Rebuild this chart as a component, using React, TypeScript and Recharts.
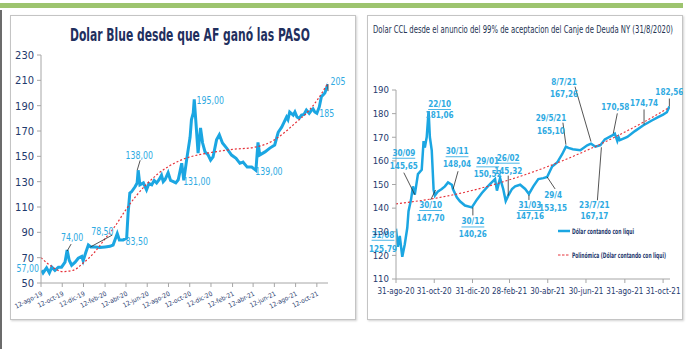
import React from 'react';
import { LineChart, Line, XAxis, YAxis, ReferenceDot, Legend } from 'recharts';

const NARROW = '"Liberation Sans Narrow", "DejaVu Sans Condensed", "Liberation Sans", sans-serif';
const NAVY = '#1f3a6e';
const BLUE = '#1ba6e2';
const LABEL_BLUE = '#2eaae2';
const RED = '#e5323a';
const AXIS = '#a6a6a6';
const LEADER = '#2a2a2a';

const MONTHS = ['ene', 'feb', 'mar', 'abr', 'may', 'jun', 'jul', 'ago', 'sep', 'oct', 'nov', 'dic'];
const isoTs = (iso: string) => {
  const [y, m, d] = iso.split('-').map(Number);
  return Date.UTC(y, m - 1, d);
};
const labelTs = (label: string) => {
  const [d, mon, yy] = label.split('-');
  return Date.UTC(2000 + Number(yy), MONTHS.indexOf(mon), Number(d));
};

// ---- Dolar Blue (left) ----
const blueDates = [
  '2019-08-14', '2019-08-18', '2019-08-28', '2019-09-05', '2019-09-12', '2019-09-21', '2019-10-01', '2019-10-10',
  '2019-10-20', '2019-10-26', '2019-11-01', '2019-11-08', '2019-11-18', '2019-11-27', '2019-12-07', '2019-12-11',
  '2019-12-19', '2019-12-26', '2020-01-02', '2020-01-14', '2020-01-28', '2020-02-12', '2020-02-26', '2020-03-06',
  '2020-03-18', '2020-03-24', '2020-04-04', '2020-04-14', '2020-04-18', '2020-04-23', '2020-04-28', '2020-05-08',
  '2020-05-14', '2020-05-17', '2020-05-22', '2020-06-01', '2020-06-10', '2020-06-17', '2020-06-25', '2020-07-02',
  '2020-07-09', '2020-07-16', '2020-07-23', '2020-07-28', '2020-08-02', '2020-08-11', '2020-08-18', '2020-08-26',
  '2020-09-02', '2020-09-09', '2020-09-19', '2020-09-25', '2020-10-03', '2020-10-13', '2020-10-17', '2020-10-22',
  '2020-10-25', '2020-10-30', '2020-11-05', '2020-11-12', '2020-11-18', '2020-11-25', '2020-12-04', '2020-12-11',
  '2020-12-18', '2020-12-28', '2021-01-05', '2021-01-14', '2021-01-26', '2021-02-09', '2021-02-22', '2021-03-05',
  '2021-03-14', '2021-03-26', '2021-04-08', '2021-04-20', '2021-04-26', '2021-05-01', '2021-05-16', '2021-05-30',
  '2021-06-13', '2021-06-23', '2021-07-03', '2021-07-10', '2021-07-17', '2021-07-21', '2021-07-26', '2021-08-05',
  '2021-08-10', '2021-08-16', '2021-08-22', '2021-08-29', '2021-09-05', '2021-09-12', '2021-09-20', '2021-09-27',
  '2021-10-01', '2021-10-06', '2021-10-12', '2021-10-19', '2021-10-25', '2021-11-04', '2021-11-09', '2021-11-13',
];
const blueValues = [
  60, 58, 62, 58, 62.5, 60, 62.5, 62.5,
  66.5, 76, 68, 64, 66.5, 69.5, 71, 67.5,
  74.5, 80, 78.5, 78.5, 78, 78.5, 79, 80,
  89, 84, 84, 85.5, 105, 121, 122, 126,
  129, 139, 127.5, 129, 123.5, 128.5, 127.5, 131,
  129, 131.5, 135, 130, 131.5, 137, 131, 130,
  129, 131.5, 144.5, 131, 147, 165, 179, 184,
  195, 176, 152.5, 172.5, 160.5, 153.5, 151, 147,
  149.5, 163, 167, 160.5, 156.5, 151, 148.5, 144.5,
  145.5, 141.5, 141.5, 139, 161, 151, 153.5, 156.5,
  159, 169, 173, 177, 181, 179, 185, 182.5,
  185, 181, 180, 182.5, 183, 186.5, 184, 186.5,
  187.5, 185, 184, 189, 197, 200, 204, 207,
];
const blueTrendDates = [
  '2019-08-12', '2019-09-12', '2019-10-12', '2019-11-12', '2019-12-12', '2020-01-12', '2020-02-12', '2020-03-12',
  '2020-04-12', '2020-05-12', '2020-06-12', '2020-07-12', '2020-08-12', '2020-09-12', '2020-10-12', '2020-11-12',
  '2020-12-12', '2021-02-12', '2021-04-12', '2021-05-12', '2021-06-12', '2021-07-12', '2021-08-12', '2021-09-12',
  '2021-10-12', '2021-11-13',
];
const blueTrendValues = [
  70, 63, 59, 60, 66, 74, 85, 95,
  108, 119, 128.5, 136, 142, 146.5, 149.5, 151.5,
  153, 155.5, 157, 159, 163, 169, 176.5, 184,
  194, 208,
];
const blueTickLabels = [
  '12-ago-19', '12-oct-19', '12-dic-19', '12-feb-20', '12-abr-20', '12-jun-20', '12-ago-20',
  '12-oct-20', '12-dic-20', '12-feb-21', '12-abr-21', '12-jun-21', '12-ago-21', '12-oct-21',
];
const blueYTicks = [50, 70, 90, 110, 130, 150, 170, 190, 210, 230];

// ---- Dolar CCL (right) ----
const cclDates = [
  '2020-08-31', '2020-09-03', '2020-09-06', '2020-09-10', '2020-09-14', '2020-09-18', '2020-09-20', '2020-09-24',
  '2020-09-27', '2020-09-30', '2020-10-02', '2020-10-05', '2020-10-11', '2020-10-14', '2020-10-16', '2020-10-19',
  '2020-10-22', '2020-10-24', '2020-10-27', '2020-10-30', '2020-11-01', '2020-11-06', '2020-11-12', '2020-11-17',
  '2020-11-22', '2020-11-28', '2020-11-30', '2020-12-06', '2020-12-11', '2020-12-19', '2020-12-30', '2021-01-07',
  '2021-01-15', '2021-01-23', '2021-01-29', '2021-02-05', '2021-02-08', '2021-02-13', '2021-02-18', '2021-02-22',
  '2021-02-26', '2021-03-04', '2021-03-09', '2021-03-17', '2021-03-25', '2021-03-31', '2021-04-07', '2021-04-15',
  '2021-04-23', '2021-04-29', '2021-05-07', '2021-05-15', '2021-05-23', '2021-05-29', '2021-06-02', '2021-06-09',
  '2021-06-21', '2021-07-02', '2021-07-08', '2021-07-15', '2021-07-23', '2021-07-30', '2021-08-11', '2021-08-15',
  '2021-08-19', '2021-08-21', '2021-08-23', '2021-09-04', '2021-09-16', '2021-09-29', '2021-10-13', '2021-10-23',
  '2021-10-31', '2021-11-06', '2021-11-10',
];
const cclValues = [
  131.3, 123.6, 128.2, 119.4, 124.7, 131.7, 138.7, 143.6,
  149.2, 145.7, 149.2, 154.4, 156.2, 168.4, 165.6, 170.1,
  181.1, 170.1, 164.5, 147.7, 145.3, 147.1, 148.1, 149.2,
  150.9, 149.9, 148.0, 144.6, 142.9, 141.1, 140.3, 143.6,
  146.4, 148.8, 150.5, 152.3, 147.4, 152.7, 148.1, 143.0,
  145.3, 148.1, 149.2, 149.9, 148.1, 146.0, 149.2, 152.3,
  152.7, 153.2, 157.6, 159.3, 162.8, 166.0, 165.5, 164.9,
  164.5, 166.6, 167.3, 166.0, 166.6, 169.1, 170.8, 171.5,
  168.4, 170.0, 168.8, 170.1, 172.6, 175.0, 177.1, 178.5,
  179.6, 180.6, 183.0,
];
const cclTrendDates = [
  '2020-08-31', '2020-10-31', '2020-12-31', '2021-02-28', '2021-04-30', '2021-06-30', '2021-08-31', '2021-10-31',
  '2021-11-10',
];
const cclTrendValues = [141.8, 144.1, 147.5, 152.0, 157.6, 164.3, 172.2, 181.1, 182.7];
const cclTickLabels = [
  '31-ago-20', '31-oct-20', '31-dic-20', '28-feb-21', '30-abr-21', '30-jun-21', '31-ago-21', '31-oct-21',
];
const cclYTicks = [110, 120, 130, 140, 150, 160, 170, 180, 190];

type NoteLine = { text: string; dx: number; dy: number; u?: boolean };
type Note = { date: string; value: number; lines: NoteLine[]; leader?: number[] };

const blueNotes: Note[] = [
  { date: '2019-08-14', value: 60, lines: [{ text: '57,00', dx: -14, dy: -2 }] },
  { date: '2019-10-26', value: 76, lines: [{ text: '74,00', dx: 5, dy: -13 }], leader: [0, 1, 4, -6] },
  { date: '2019-12-26', value: 80, lines: [{ text: '78,50', dx: 14, dy: -14 }], leader: [2, 2, 24, -10] },
  { date: '2020-04-14', value: 85.5, lines: [{ text: '83,50', dx: 10, dy: 3 }] },
  { date: '2020-05-17', value: 139, lines: [{ text: '138,00', dx: 1, dy: -15 }], leader: [-1, 0, 2, -10] },
  { date: '2020-09-25', value: 131, lines: [{ text: '131,00', dx: 13, dy: 1 }] },
  { date: '2020-10-25', value: 195, lines: [{ text: '195,00', dx: 16, dy: 1 }] },
  { date: '2021-04-20', value: 139, lines: [{ text: '139,00', dx: 13, dy: 1 }] },
  { date: '2021-10-06', value: 185, lines: [{ text: '185', dx: 12, dy: 1 }] },
  { date: '2021-11-13', value: 207, lines: [{ text: '205', dx: 10, dy: -3 }], leader: [0, 0, 0, 7] },
];

const cclNotes: Note[] = [
  { date: '2020-08-31', value: 131.3, lines: [{ text: '31/08', dx: -13, dy: 6, u: true }, { text: '125,79', dx: -13, dy: 20 }] },
  { date: '2020-09-30', value: 145.7, lines: [{ text: '30/09', dx: -11, dy: -42, u: true }, { text: '145,65', dx: -11, dy: -29 }], leader: [-11, -22, 0, 0] },
  { date: '2020-10-22', value: 181.1, lines: [{ text: '22/10', dx: 11, dy: -7, u: true }, { text: '181,06', dx: 11, dy: 4 }] },
  { date: '2020-10-30', value: 147.7, lines: [{ text: '30/10', dx: -3, dy: 15, u: true }, { text: '147,70', dx: -3, dy: 28 }], leader: [-3, 10, 2, 0] },
  { date: '2020-11-30', value: 148.0, lines: [{ text: '30/11', dx: 4, dy: -38, u: true }, { text: '148,04', dx: 4, dy: -25 }], leader: [5, -18, 0, 0] },
  { date: '2020-12-30', value: 140.3, lines: [{ text: '30/12', dx: 1, dy: 14, u: true }, { text: '140,26', dx: 1, dy: 27 }], leader: [1, 0, 1, 8] },
  { date: '2021-01-29', value: 150.5, lines: [{ text: '29/01', dx: -3, dy: -22, u: true }, { text: '150,52', dx: -3, dy: -9 }] },
  { date: '2021-02-26', value: 145.3, lines: [{ text: '26/02', dx: 0, dy: -38, u: true }, { text: '145,32', dx: 0, dy: -25 }], leader: [0, -20, 0, 0] },
  { date: '2021-03-31', value: 146.0, lines: [{ text: '31/03', dx: 1, dy: 11, u: true }, { text: '147,16', dx: 1, dy: 22 }], leader: [0, 1, 0, 6] },
  { date: '2021-04-29', value: 153.2, lines: [{ text: '29/4', dx: 6, dy: 18 }, { text: '153,15', dx: 6, dy: 31 }], leader: [0, 0, 8, 12] },
  { date: '2021-05-29', value: 166.0, lines: [{ text: '29/5/21', dx: -15, dy: -29 }, { text: '165,10', dx: -15, dy: -16 }], leader: [-3, -24, 0, -2] },
  { date: '2021-07-08', value: 167.3, lines: [{ text: '8/7/21', dx: -27, dy: -62 }, { text: '167,26', dx: -27, dy: -50 }], leader: [-16, -57, 0, -2] },
  { date: '2021-07-23', value: 166.6, lines: [{ text: '23/7/21', dx: -6, dy: 60 }, { text: '167,17', dx: -6, dy: 71 }], leader: [-3, 55, 1, 2] },
  { date: '2021-08-11', value: 170.8, lines: [{ text: '170,58', dx: 3, dy: -28 }], leader: [5, -22, 1, -2] },
  { date: '2021-09-29', value: 175.0, lines: [{ text: '174,74', dx: 1, dy: -23 }], leader: [1, -16, 1, -1] },
  { date: '2021-11-10', value: 183.0, lines: [{ text: '182,56', dx: 0, dy: -15 }], leader: [0, -8, 0, 0] },
];

const toSeries = (dates: string[], values: number[]) => dates.map((d, i) => ({ t: isoTs(d), v: values[i] }));

const blueData = toSeries(blueDates, blueValues);
const blueTrend = toSeries(blueTrendDates, blueTrendValues);
const cclData = toSeries(cclDates, cclValues);
const cclTrend = toSeries(cclTrendDates, cclTrendValues);

const blueTicks = blueTickLabels.map(labelTs);
const cclTicks = cclTickLabels.map(labelTs);

const noteShape = (note: Note, fontSize: number, scaleX: number, weight: number) => (props: any) => {
  const { cx, cy } = props;
  return (
    <g>
      {note.leader && (
        <line
          x1={cx + note.leader[0]}
          y1={cy + note.leader[1]}
          x2={cx + note.leader[2]}
          y2={cy + note.leader[3]}
          stroke={LEADER}
          strokeWidth={0.8}
        />
      )}
      {note.lines.map((ln, i) => (
        <text
          key={i}
          transform={`translate(${cx + ln.dx},${cy + ln.dy}) scale(${scaleX},1)`}
          textAnchor="middle"
          dominantBaseline="central"
          fontSize={fontSize}
          fontFamily={NARROW}
          fontWeight={weight}
          fill={LABEL_BLUE}
          textDecoration={ln.u ? 'underline' : undefined}
        >
          {ln.text}
        </text>
      ))}
    </g>
  );
};

const BlueTick = (props: any) => {
  const { x, y, payload } = props;
  const label = blueTickLabels[blueTicks.indexOf(payload.value)] ?? '';
  return (
    <text
      transform={`translate(${x + 2},${y + 6}) rotate(-27)`}
      textAnchor="end"
      fontSize={6.5}
      fontFamily={NARROW}
      fill={NAVY}
    >
      {label}
    </text>
  );
};

const CclLegend = () => (
  <svg width={130} height={40}>
    <line x1={2} y1={8} x2={14} y2={8} stroke={BLUE} strokeWidth={2.5} />
    <text x={16} y={8} dominantBaseline="central" fontSize={7.5} fontFamily={NARROW} fontWeight={700} fill={NAVY} textLength={62} lengthAdjust="spacingAndGlyphs">
      Dólar contando con liqui
    </text>
    <line x1={2} y1={32} x2={13} y2={32} stroke={RED} strokeWidth={1} strokeDasharray="2.5 1.5" />
    <text x={16} y={32} dominantBaseline="central" fontSize={7.5} fontFamily={NARROW} fontWeight={700} fill={NAVY} textLength={94} lengthAdjust="spacingAndGlyphs">
      Polinómica (Dólar contando con liqui)
    </text>
  </svg>
);

const panelStyle: React.CSSProperties = {
  position: 'absolute',
  top: 15,
  height: 305,
  boxSizing: 'border-box',
  border: '1px solid #c4c4c4',
  boxShadow: '1px 1px 2px rgba(0,0,0,0.18)',
  background: '#fff',
};

export default function App() {
  return (
    <div style={{ position: 'absolute', left: 0, top: 0, width: 700, height: 349, background: '#fff', overflow: 'hidden' }}>
      <div style={{ position: 'absolute', left: 0, top: 3, width: 683, height: 5, background: '#9dc46f' }} />
      <div style={{ position: 'absolute', left: 0, top: 10, width: 2, height: 339, background: '#6b6b6b' }} />

      {/* left panel */}
      <div style={{ ...panelStyle, left: 10, width: 346 }}>
        <div style={{ position: 'absolute', left: -1, top: -1 }}>
          <LineChart width={346} height={305} margin={{ top: 40, right: 28, bottom: 7, left: 0 }}>
            <XAxis
              type="number"
              dataKey="t"
              domain={[isoTs('2019-08-12'), isoTs('2021-11-13')]}
              ticks={blueTicks}
              interval={0}
              allowDataOverflow
              height={30}
              tickSize={4}
              stroke={AXIS}
              tick={(p: any) => <BlueTick {...p} />}
            />
            <YAxis
              type="number"
              domain={[50, 230]}
              ticks={blueYTicks}
              interval={0}
              width={31}
              tickSize={4}
              tickMargin={3}
              stroke={AXIS}
              tick={{ fill: NAVY, fontSize: 11, fontFamily: NARROW }}
            />
            <Line data={blueData} dataKey="v" type="linear" stroke={BLUE} strokeWidth={3} dot={false} isAnimationActive={false} />
            <Line data={blueTrend} dataKey="v" type="monotone" stroke={RED} strokeWidth={1.2} strokeDasharray="2 2" dot={false} isAnimationActive={false} />
            {blueNotes.map((n, i) => (
              <ReferenceDot key={i} x={isoTs(n.date)} y={n.value} r={0} ifOverflow="visible" shape={noteShape(n, 10.5, 0.83, 400)} />
            ))}
          </LineChart>
        </div>
        <svg style={{ position: 'absolute', left: -1, top: -1 }} width={346} height={60}>
          <text x={180} y={26} textAnchor="middle" fontSize={17} fontWeight={700} fontFamily={NARROW} fill="#1f2f5e" textLength={240} lengthAdjust="spacingAndGlyphs">
            Dolar Blue desde que AF ganó las PASO
          </text>
        </svg>
      </div>

      {/* right panel */}
      <div style={{ ...panelStyle, left: 367, width: 316 }}>
        <div style={{ position: 'absolute', left: -1, top: -1 }}>
          <LineChart width={316} height={305} margin={{ top: 35, right: 13, bottom: 11, left: 0 }}>
            <XAxis
              type="number"
              dataKey="t"
              domain={[isoTs('2020-08-31'), isoTs('2021-11-11')]}
              ticks={cclTicks}
              interval={0}
              allowDataOverflow
              height={30}
              tickSize={4}
              tickMargin={5}
              stroke={AXIS}
              tickFormatter={(v: number) => cclTickLabels[cclTicks.indexOf(v)] ?? ''}
              tick={{ fill: NAVY, fontSize: 8, fontFamily: NARROW }}
            />
            <YAxis
              type="number"
              domain={[110, 190]}
              ticks={cclYTicks}
              interval={0}
              width={29}
              tickSize={4}
              tickMargin={3}
              stroke={AXIS}
              tick={{ fill: NAVY, fontSize: 9.5, fontFamily: NARROW }}
            />
            <Legend
              verticalAlign="top"
              align="left"
              wrapperStyle={{ position: 'absolute', left: 189, top: 208, width: 130, height: 40 }}
              content={() => <CclLegend />}
            />
            <Line data={cclData} dataKey="v" name="Dólar contando con liqui" type="linear" stroke={BLUE} strokeWidth={2.5} dot={false} isAnimationActive={false} />
            <Line data={cclTrend} dataKey="v" name="Polinómica (Dólar contando con liqui)" type="monotone" stroke={RED} strokeWidth={1.1} strokeDasharray="2 2" dot={false} isAnimationActive={false} />
            {cclNotes.map((n, i) => (
              <ReferenceDot key={i} x={isoTs(n.date)} y={n.value} r={0} ifOverflow="visible" shape={noteShape(n, 8.5, 0.95, 700)} />
            ))}
          </LineChart>
        </div>
        <svg style={{ position: 'absolute', left: -1, top: -1 }} width={316} height={40}>
          <text x={156} y={18} textAnchor="middle" fontSize={11} fontFamily={NARROW} fill="#243352" textLength={300} lengthAdjust="spacingAndGlyphs">
            Dolar CCL desde el anuncio del 99% de aceptacion del Canje de Deuda NY (31/8/2020)
          </text>
        </svg>
      </div>
    </div>
  );
}
